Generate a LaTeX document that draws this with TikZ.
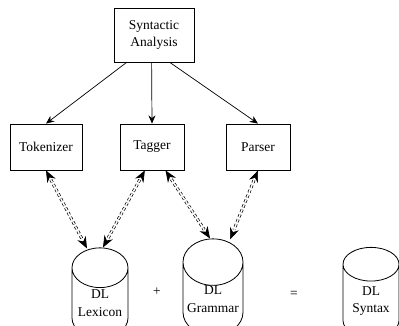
\documentclass[tikz,border=0pt]{standalone}
\usepackage{fontspec}
\setmainfont{Liberation Serif}
\usepackage{tikz}
\usetikzlibrary{shapes.geometric}
\usetikzlibrary{arrows.meta}
\usetikzlibrary{calc}

\tikzset{
    block/.style={draw, rectangle, align=center, inner sep=0pt, line width=0.7pt},
    store/.style={draw, cylinder, shape border rotate=90, aspect=0.9, align=center, inner sep=0pt,
        line width=0.7pt, minimum width=1.68cm, minimum height=2.7cm},
    flow/.style={line width=0.6pt, -{Stealth[length=7pt,width=6pt]}},
    lookup/.style={line width=0.6pt, double, double distance=1.3pt, dash pattern=on 2.5pt off 2pt,
        shorten <=9pt, shorten >=9pt},
    lookupends/.style={tips, line width=0.6pt, {Stealth[length=10pt,width=8pt]}-{Stealth[length=10pt,width=8pt]}},
}

\begin{document}
\begin{tikzpicture}[x=0.03cm, y=-0.03cm, font=\fontsize{11.5}{15}\selectfont]
    	\useasboundingbox (0,0) rectangle (399,325);
    	% Boxes:
    	\node[block, minimum width=2.4cm, minimum height=1.62cm](Syn) at (154, 35){Syntactic\\Analysis};
    	\node[block, minimum width=2.16cm, minimum height=1.38cm](Tok) at (46, 147){Tokenizer};
    	\node[block, minimum width=1.92cm, minimum height=1.38cm](Tag) at (152, 147){Tagger};
    	\node[block, minimum width=1.92cm, minimum height=1.38cm](Par) at (258, 147){Parser};
    	% Stores and signs:
    	\node[store](Lex) at (100, 303){DL\\Lexicon};
    	\node[store, minimum width=1.8cm](Gram) at (213, 299){DL\\Grammar};
    	\node[store](Stx) at (371, 301){DL\\Syntax};
    	\node(Plus) at (157, 292){+};
    	\node(Eq) at (294, 294){=};
    	% Arrows:
    	\draw[flow] (Syn.225) -- (Tok.north);
    	\draw[flow] (Syn.265) -- (Tag.north);
    	\draw[flow] (Syn.300) -- (Par.north);
    	\coordinate (LexA) at ($(Lex.north)+(-13,1)$);
    	\coordinate (LexB) at ($(Lex.north)+(3,0)$);
    	\coordinate (GramA) at ($(Gram.north)+(-3,0)$);
    	\coordinate (GramB) at ($(Gram.north)+(17,1)$);
    	\foreach \from/\to in {Tok.south/LexA, Tag.253/LexB, Tag.300/GramA, Par.south/GramB}{
    		\draw[lookup] (\from) -- (\to);
    		\path[lookupends] (\from) -- (\to);
    	}
    \end{tikzpicture}
\end{document}
